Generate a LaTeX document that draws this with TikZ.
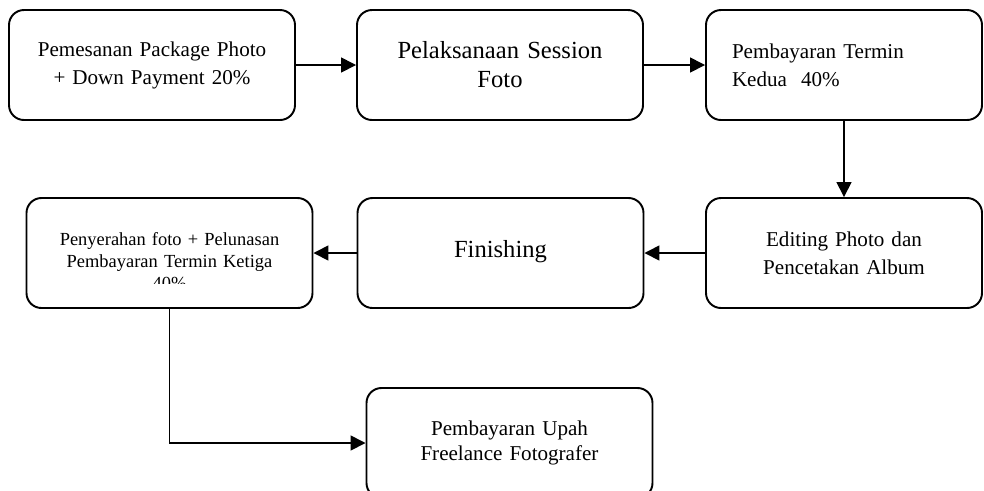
\documentclass[tikz,border=0pt]{standalone}
\usepackage{fontspec}
\setmainfont{Liberation Serif}
\usetikzlibrary{arrows.meta, positioning}

\begin{document}
\begin{tikzpicture}[>={Triangle[length=0.3cm, width=0.3cm]},
    block/.style={rectangle, draw, line width=1.1pt, rounded corners=0.3cm, minimum width=5.72cm, minimum height=2.2cm, text width=5.3cm, align=center, inner sep=0pt, font=\fontsize{12}{15.9}\selectfont},
    line/.style={draw, ->, line width=0.9pt}]

    \useasboundingbox (0,0) rectangle (19.68,-9.8);

    % Row 1
    \node [block] (order) at (3.04, -1.30) {Pemesanan Package Photo\\+ Down Payment 20\%};
    \node [block, font=\fontsize{14}{16.5}\selectfont] (session) at (10.0, -1.30) {Pelaksanaan Session\\Foto};
    \node [block, minimum width=5.52cm, text width=4.48cm, align=left] (termin2) at (16.88, -1.30) {Pembayaran Termin\\Kedua~~40\%};

    % Row 2
    \node [block] (handover) at (3.39, -5.06) {};
    \begin{scope}
        \clip (0.5, -3.96) rectangle (6.3, -5.66);
        \node [text width=5.3cm, align=center, font=\fontsize{10.5}{12.5}\selectfont] (handovertext) at (3.39, -5.22) {Penyerahan foto + Pelunasan\\Pembayaran Termin Ketiga\\40\%};
    \end{scope}
    \node [block, font=\fontsize{14}{16.5}\selectfont] (finish) at (10.01, -5.06) {\raisebox{0.16cm}{Finishing}};
    \node [block, minimum width=5.52cm] (editing) at (16.88, -5.06) {Editing Photo dan\\Pencetakan Album};

    % Row 3
    \node [block, font=\fontsize{12}{14}\selectfont] (upah) at (10.19, -8.86) {Pembayaran Upah\\Freelance Fotografer};

    % Paths
    \path [line] (order) -- (session);
    \path [line] (session) -- (termin2);
    \path [line] (termin2.south) -- (editing.north);
    \path [line] (editing) -- (finish);
    \path [line] (finish) -- (handover);
    \path [line] (handover.south) |- (upah.west);
\end{tikzpicture}
\end{document}
